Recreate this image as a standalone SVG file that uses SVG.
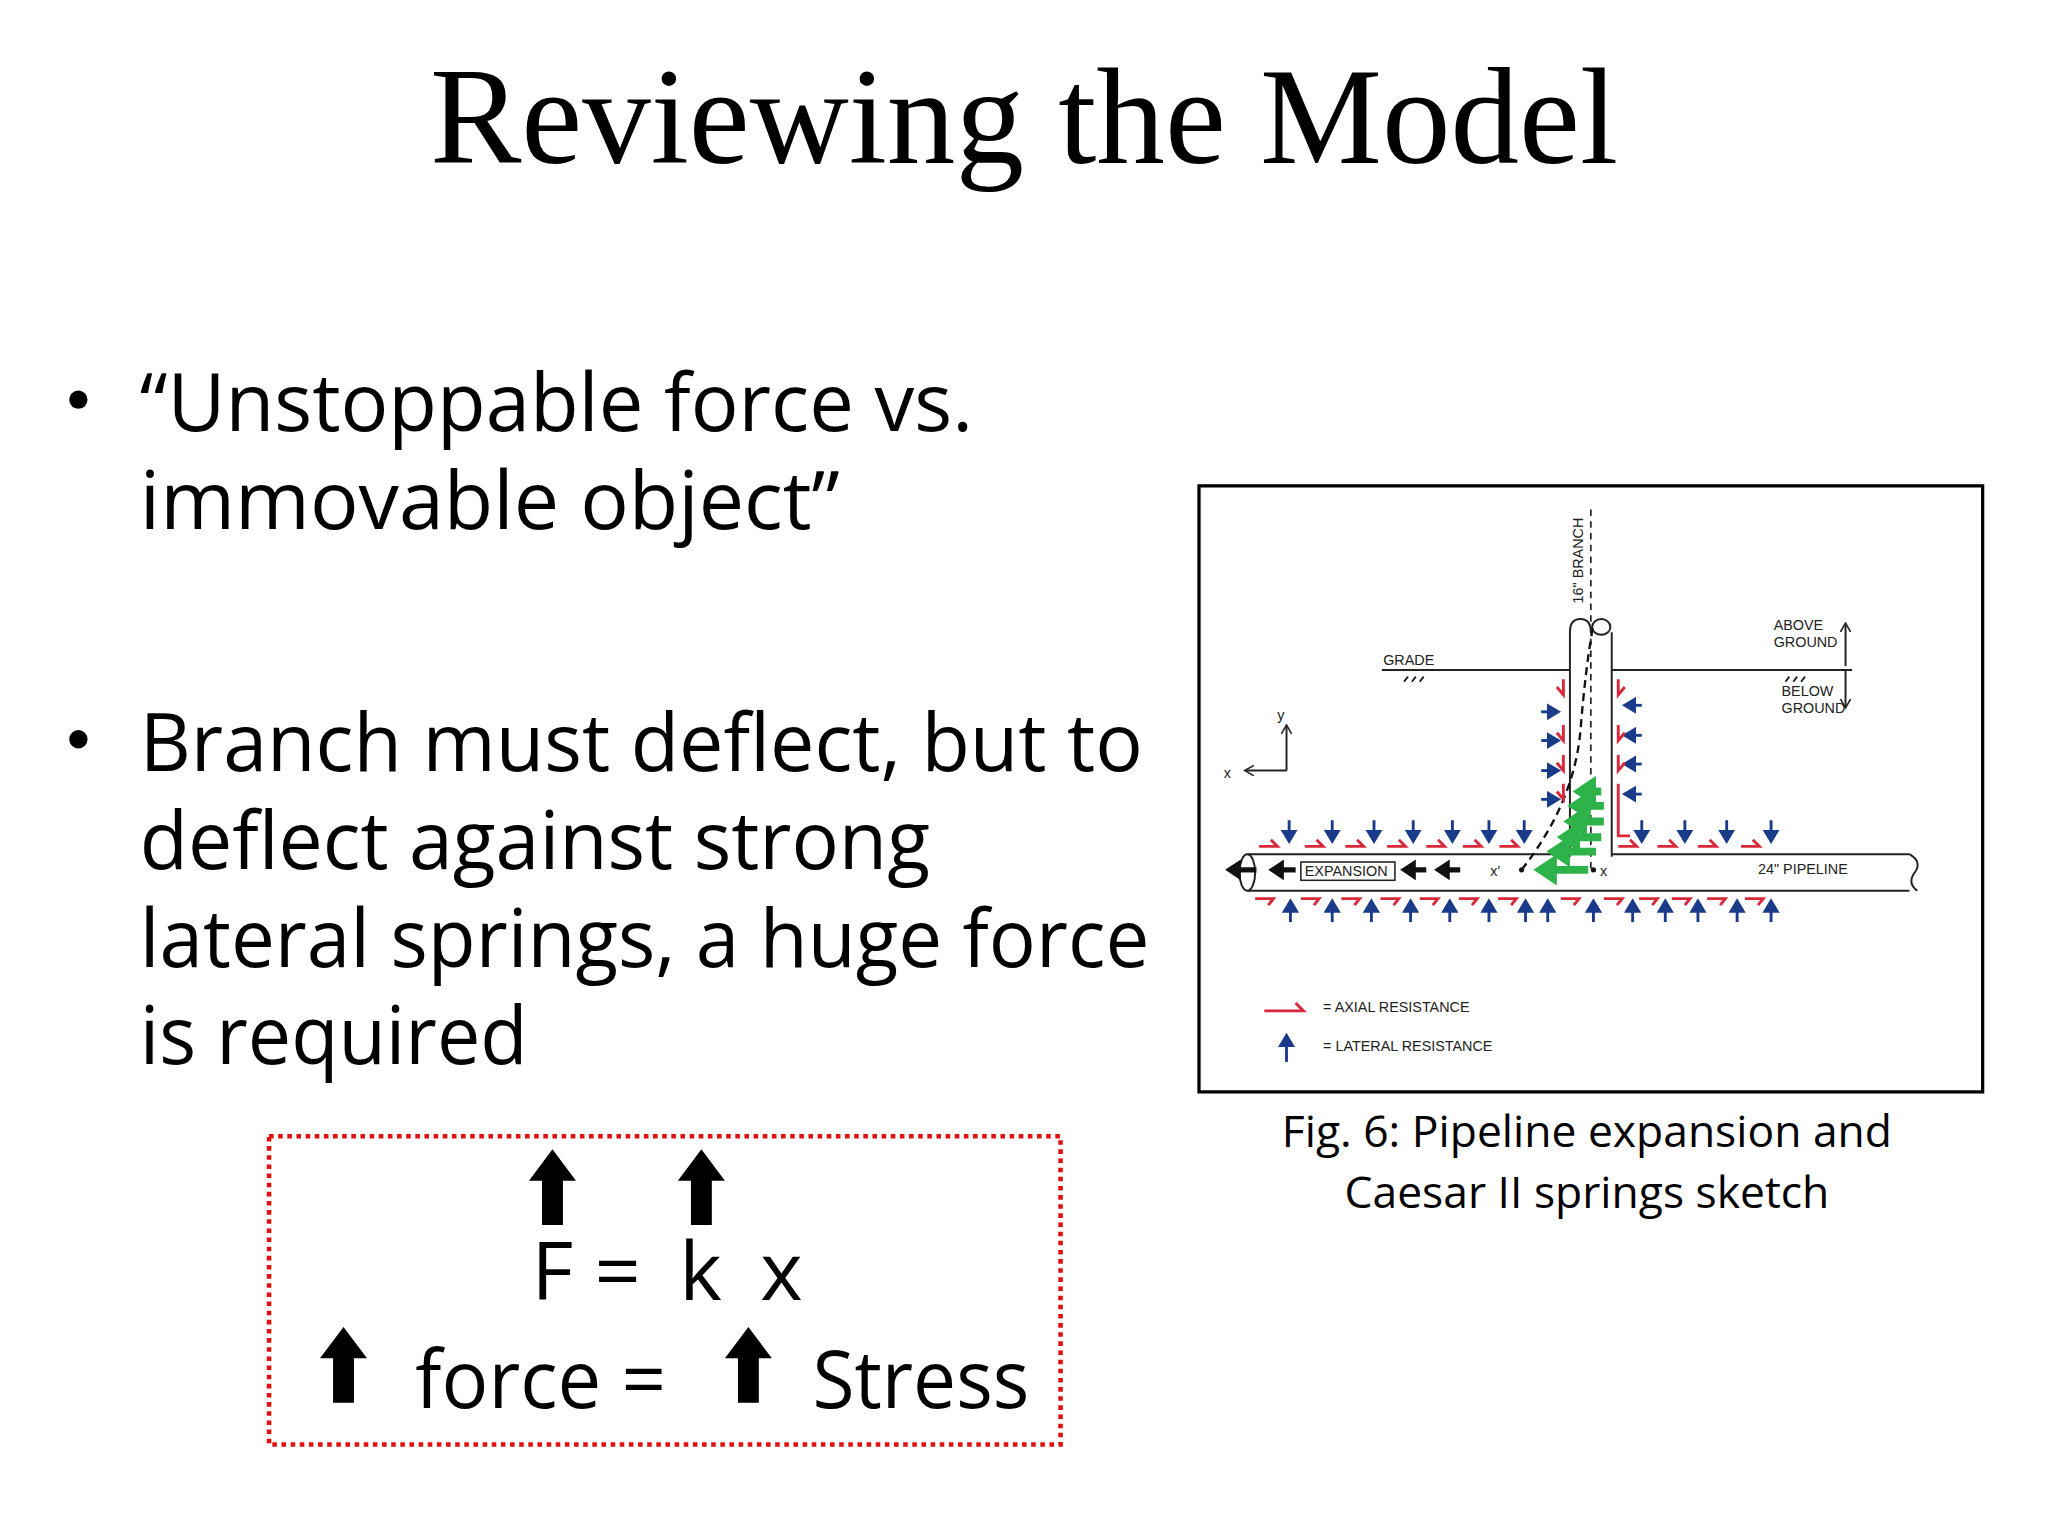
<svg xmlns="http://www.w3.org/2000/svg" width="2048" height="1536" viewBox="0 0 2048 1536">
<style>
.t{font-family:"Liberation Serif",serif;fill:#000}
.b{font-family:"Open Sans","Liberation Sans",sans-serif;fill:#000}
.h{font-family:"Liberation Sans",sans-serif;fill:#222;font-size:11px}
.ln{stroke:#222;stroke-width:1.5;fill:none}
.bl{stroke:#1a3a8a;stroke-width:2.2;fill:none;marker-end:url(#bh)}
.rd{stroke:#d8283a;stroke-width:2.2;fill:none}
.gr{stroke:#2eb34a;stroke-width:6;fill:none;marker-end:url(#gh)}
.bk{stroke:#111;stroke-width:4;fill:none;marker-end:url(#kh)}
</style>
<defs>
<marker id="bh" markerWidth="6" markerHeight="6" refX="4" refY="3" orient="auto" markerUnits="strokeWidth"><path d="M0,0 L5,3 L0,6 z" fill="#1a3a8a"/></marker>
<marker id="gh" markerWidth="3" markerHeight="4" refX="2" refY="2" orient="auto" markerUnits="strokeWidth"><path d="M0,0 L3,2 L0,4 z" fill="#2eb34a"/></marker>
<marker id="kh" markerWidth="3" markerHeight="4" refX="2" refY="2" orient="auto" markerUnits="strokeWidth"><path d="M0,0 L3,2 L0,4 z" fill="#111"/></marker>
<marker id="lh" markerWidth="8" markerHeight="8" refX="6" refY="4" orient="auto" markerUnits="userSpaceOnUse"><path d="M0,0 L7,4 L0,8" fill="none" stroke="#222" stroke-width="1.2"/></marker>
<path id="up" d="M0,0 L18,24 L8,24 L8,58 L-8,58 L-8,24 L-18,24 Z" fill="#000"/>
<path id="bd" class="bl" d="M0,0 V16"/>
<path id="bu" class="bl" d="M0,0 V-16"/>
<path id="br" class="bl" d="M0,0 H13"/>
<path id="bL" class="bl" d="M0,0 H-13"/>
<path id="ra" class="rd" d="M-7,0 H7 L2,-5"/>
<path id="rb" class="rd" d="M-7,0 H7 L3,5"/>
</defs>
<rect width="2048" height="1536" fill="#fff"/>
<g transform="scale(1.3061)">
<g id="title"><text class="t" x="784" y="125" font-size="105" text-anchor="middle">Reviewing the Model</text></g>
<g id="bullets">
<circle cx="60" cy="306" r="7" fill="#000"/>
<text class="b" x="107" y="330" font-size="61" textLength="638" lengthAdjust="spacingAndGlyphs">“Unstoppable force vs.</text>
<text class="b" x="107" y="405" font-size="61" textLength="536" lengthAdjust="spacingAndGlyphs">immovable object”</text>
<circle cx="60" cy="566" r="7" fill="#000"/>
<text class="b" x="107" y="590" font-size="61" textLength="768" lengthAdjust="spacingAndGlyphs">Branch must deflect, but to</text>
<text class="b" x="107" y="665" font-size="61" textLength="605" lengthAdjust="spacingAndGlyphs">deflect against strong</text>
<text class="b" x="107" y="740" font-size="61" textLength="773" lengthAdjust="spacingAndGlyphs">lateral springs, a huge force</text>
<text class="b" x="107" y="815" font-size="61" textLength="297" lengthAdjust="spacingAndGlyphs">is required</text>
</g>
<g id="formula-box">
<rect x="206" y="870" width="606" height="236" fill="none" stroke="#e01010" stroke-width="3.5" stroke-dasharray="3.5,3.5"/>
<use href="#up" x="423" y="880"/>
<use href="#up" x="537" y="880"/>
<text class="b" x="407" y="995" font-size="62">F =</text>
<text class="b" x="520" y="995" font-size="62">k</text>
<text class="b" x="582" y="995" font-size="62">x</text>
<use href="#up" x="263" y="1016"/>
<text class="b" x="318" y="1078" font-size="62" textLength="192" lengthAdjust="spacingAndGlyphs">force =</text>
<use href="#up" x="573" y="1016"/>
<text class="b" x="622" y="1078" font-size="62" textLength="166" lengthAdjust="spacingAndGlyphs">Stress</text>
</g>
<g id="figure">
<rect x="918" y="372" width="600" height="464" fill="#fff" stroke="#000" stroke-width="2.5"/>
<path class="ln" d="M1058,513 H1202 M1234,513 H1418"/>
<path class="ln" d="M1078,518 l-3,4 M1084,518 l-3,4 M1090,518 l-3,4 M1370,518 l-3,4 M1376,518 l-3,4 M1382,518 l-3,4"/>
<text class="h" x="1059" y="509" font-size="10">GRADE</text>
<path class="ln" d="M1413,510 V478" marker-end="url(#lh)"/>
<path class="ln" d="M1413,513 V541" marker-end="url(#lh)"/>
<text class="h" x="1358" y="482" font-size="8.5">ABOVE</text>
<text class="h" x="1358" y="495" font-size="8.5">GROUND</text>
<text class="h" x="1364" y="533" font-size="8.5">BELOW</text>
<text class="h" x="1364" y="546" font-size="8.5">GROUND</text>
<path class="ln" d="M985,590 V556" marker-end="url(#lh)"/>
<path class="ln" d="M985,590 H954" marker-end="url(#lh)"/>
<text class="h" x="978" y="551" font-size="13">y</text>
<text class="h" x="937" y="596" font-size="13">x</text>
<path class="ln" d="M1202,656 V484 Q1202,474 1210,474 Q1218,474 1218,484 M1234,656 V484"/>
<ellipse class="ln" cx="1226" cy="480" rx="7" ry="6"/>
<path d="M1218,390 V668" stroke="#222" stroke-width="1.3" stroke-dasharray="5,4"/>
<text class="h" transform="translate(1212,462) rotate(-90)" font-size="12">16" BRANCH</text>
<path class="ln" d="M1234,654 H1462 M955,654 H1202 M955,682 H1462"/>
<ellipse class="ln" cx="955" cy="668" rx="6" ry="14"/>
<path class="ln" d="M1462,654 Q1472,660 1466,668 Q1460,676 1468,682"/>
<rect x="996" y="660" width="72" height="14" fill="none" stroke="#222" stroke-width="1.2"/>
<text class="h" x="999" y="671" font-size="9.5">EXPANSION</text>
<text class="h" x="1346" y="669" font-size="11">24" PIPELINE</text>
<path class="bk" d="M962,666 H942"/>
<path class="bk" d="M992,666 H975"/>
<path class="bk" d="M1092,666 H1076"/>
<path class="bk" d="M1118,666 H1102"/>
<text class="h" x="1141" y="671" font-size="13">x'</text>
<circle cx="1165" cy="666" r="2" fill="#111"/>
<circle cx="1220" cy="666" r="2" fill="#111"/>
<text class="h" x="1225" y="671" font-size="13">x</text>
<path class="gr" d="M1216,666 H1180"/>
<path class="gr" d="M1222,652 H1190"/>
<path class="gr" d="M1226,641 H1198"/>
<path class="gr" d="M1228,629 H1203"/>
<path class="gr" d="M1228,617 H1206"/>
<path class="gr" d="M1226,606 H1210"/>
<path d="M1165,666 Q1205,615 1210,560 Q1214,510 1220,478" stroke="#111" stroke-width="1.8" stroke-dasharray="6,4" fill="none"/>
<use href="#br" x="1180" y="545"/><use href="#br" x="1180" y="567"/><use href="#br" x="1180" y="590"/><use href="#br" x="1180" y="612"/>
<use href="#bL" x="1257" y="540"/><use href="#bL" x="1257" y="563"/><use href="#bL" x="1257" y="585"/><use href="#bL" x="1257" y="608"/>
<path class="rd" d="M1197,520 V532 L1192,526 M1197,555 V567 L1192,561 M1197,578 V590 L1192,584 M1197,600 V612 L1192,606"/>
<path class="rd" d="M1239,520 V532 L1244,526 M1239,555 V567 L1244,561 M1239,578 V590 L1244,584 M1239,600 V640 H1248"/>
<use href="#bd" x="987" y="628"/><use href="#bd" x="1020" y="628"/><use href="#bd" x="1052" y="628"/><use href="#bd" x="1082" y="628"/><use href="#bd" x="1112" y="628"/><use href="#bd" x="1140" y="628"/><use href="#bd" x="1167" y="628"/><use href="#bd" x="1257" y="628"/><use href="#bd" x="1290" y="628"/><use href="#bd" x="1322" y="628"/><use href="#bd" x="1356" y="628"/>
<use href="#ra" x="971" y="648"/><use href="#ra" x="1006" y="648"/><use href="#ra" x="1037" y="648"/><use href="#ra" x="1069" y="648"/><use href="#ra" x="1099" y="648"/><use href="#ra" x="1127" y="648"/><use href="#ra" x="1155" y="648"/><use href="#ra" x="1246" y="648"/><use href="#ra" x="1276" y="648"/><use href="#ra" x="1307" y="648"/><use href="#ra" x="1340" y="648"/>
<use href="#bu" x="988" y="706"/><use href="#bu" x="1020" y="706"/><use href="#bu" x="1050" y="706"/><use href="#bu" x="1080" y="706"/><use href="#bu" x="1110" y="706"/><use href="#bu" x="1140" y="706"/><use href="#bu" x="1168" y="706"/><use href="#bu" x="1185" y="706"/><use href="#bu" x="1220" y="706"/><use href="#bu" x="1250" y="706"/><use href="#bu" x="1275" y="706"/><use href="#bu" x="1300" y="706"/><use href="#bu" x="1330" y="706"/><use href="#bu" x="1356" y="706"/>
<use href="#rb" x="968" y="688"/><use href="#rb" x="1003" y="688"/><use href="#rb" x="1034" y="688"/><use href="#rb" x="1064" y="688"/><use href="#rb" x="1094" y="688"/><use href="#rb" x="1124" y="688"/><use href="#rb" x="1154" y="688"/><use href="#rb" x="1202" y="688"/><use href="#rb" x="1235" y="688"/><use href="#rb" x="1262" y="688"/><use href="#rb" x="1287" y="688"/><use href="#rb" x="1314" y="688"/><use href="#rb" x="1343" y="688"/>
<path class="rd" d="M968,774 H998 L992,768" stroke-width="2.8"/>
<text class="h" x="1013" y="775" font-size="13">= AXIAL RESISTANCE</text>
<path class="bl" d="M985,813 V793" stroke-width="2.8"/>
<text class="h" x="1013" y="805" font-size="13">= LATERAL RESISTANCE</text>
</g>
<g id="caption">
<text class="b" x="1215" y="878" font-size="34" text-anchor="middle">Fig. 6: Pipeline expansion and</text>
<text class="b" x="1215" y="925" font-size="34" text-anchor="middle">Caesar II springs sketch</text>
</g>
</g>
</svg>
